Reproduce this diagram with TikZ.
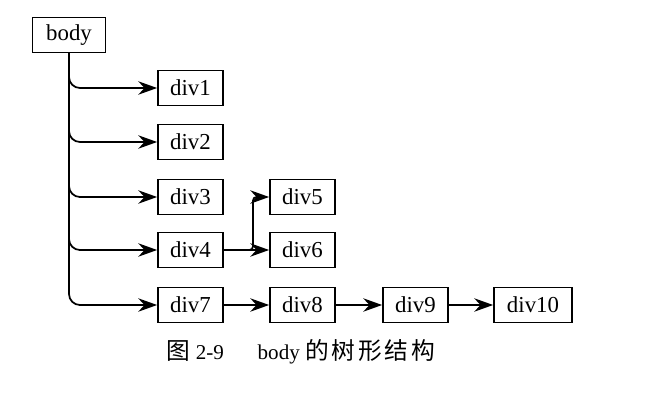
\documentclass[tikz,border=0pt]{standalone}
\usepackage{fontspec}
\setmainfont{Liberation Serif}
\newfontfamily\cjk[LetterSpace=12]{Noto Sans CJK SC}
\usetikzlibrary{arrows.meta}
\tikzset{
  box/.style = {draw, line width=1pt, minimum width=1.3cm, minimum height=0.7cm,
                inner sep=0pt, font=\fontsize{13}{15}\selectfont},
  arr/.style = {line width=1pt, -{Stealth[length=0.38cm, width=0.27cm, inset=0.13cm]}}
}
\begin{document}
\begin{tikzpicture}[x = 0.02cm, y = -0.02cm]
\useasboundingbox (0,0) rectangle (653,403);
\node[box, minimum width=1.46cm] (body) at (69,35) {body};
\node[box] (div1) at (190.5,88) {div1};
\node[box] (div2) at (190.5,142) {div2};
\node[box] (div3) at (190.5,197) {div3};
\node[box] (div4) at (190.5,250) {div4};
\node[box] (div7) at (190.5,305) {div7};
\node[box] (div5) at (302.5,197) {div5};
\node[box] (div6) at (302.5,250) {div6};
\node[box] (div8) at (302.5,305) {div8};
\node[box] (div9) at (415.5,305) {div9};
\node[box, minimum width=1.56cm] (div10) at (533,305) {div10};
\coordinate (split) at (253,250);
% branches of body
\foreach \n in {1,2,3,4,7}
  \draw[arr, rounded corners=0.22cm] (body.south) |- (div\n.west);
\draw[arr] (div4.east) -- (div6.west);
\draw[arr, rounded corners=2pt] (div4.east) -- (split) |- (div5.west);
\draw[arr] (div7) -- (div8);
\draw[arr] (div8) -- (div9);
\draw[arr] (div9) -- (div10);
\node[font=\fontsize{12}{14}\selectfont] (caption) at (301,352)
  {{\cjk\fontsize{13.5}{15}\selectfont 图}~2-9\hspace{1.6em}body {\cjk\fontsize{13.5}{15}\selectfont 的树形结构}};
\end{tikzpicture}
\end{document}
